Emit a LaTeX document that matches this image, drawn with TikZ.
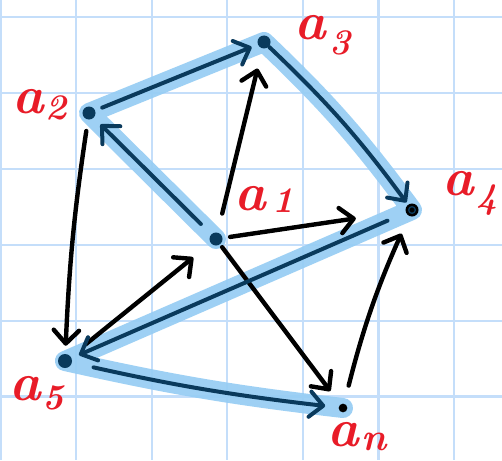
\documentclass[tikz,border=0pt]{standalone}
\usepackage{fontspec}
\usetikzlibrary{arrows.meta}
\definecolor{gridc}{RGB}{196,222,250}
\definecolor{hl}{RGB}{150,205,244}
\definecolor{dk}{RGB}{10,58,92}
\definecolor{labred}{RGB}{232,28,40}
\newcommand\lsub[3]{\hspace{#2pt}\raisebox{-#1pt}{\fontsize{27}{27}\selectfont #3}}
\tikzset{
  gline/.style={draw=gridc, line width=1.6pt},
  dotnode/.style={circle, fill=dk, inner sep=0pt, minimum size=9.75pt},
  smalldot/.style={circle, fill=black, inner sep=0pt, minimum size=6.5pt},
  tip/.style={-{Straight Barb[length=10pt,width=19pt,round]}},
  blk/.style={draw=black, line width=3.3pt, line cap=round, tip},
  dkl/.style={draw=dk, line width=3pt, line cap=round, tip},
  hlpath/.style={draw=hl, line width=15pt, line cap=round, line join=round, opacity=0.92},
  lab/.style={text=labred, font=\fontsize{40}{42}\selectfont\bfseries\itshape, inner sep=0pt, anchor=base west}
}
\begin{document}
\begin{tikzpicture}[x=0.75pt, y=-0.75pt]
\useasboundingbox (0,0) rectangle (502,460);
\fill[white] (0,0) rectangle (502,460);
% grid
\foreach \gx in {0.5,76.1,151.7,227.3,302.9,378.5,454.1} \draw[gline] (\gx,0) -- (\gx,460);
\foreach \gy in {17,92.9,168.8,244.7,320.6,396.5} \draw[gline] (0,\gy) -- (502,\gy);
% vertices
\node[dotnode] (a1) at (216,239) {};
\node[dotnode] (a2) at (89,113) {};
\node[dotnode] (a3) at (264,42) {};
\node[dotnode, fill=black] (a4) at (412,210) {};
\node[dotnode, minimum size=10.5pt] (a5) at (65,361) {};
\node[smalldot] (an) at (343,408) {};
% highlight
\draw[hlpath] (a1.center) -- (a2.center) -- (a3.center) to[bend left=5] (a4.center) -- (a5.center) to[bend right=3] (an.center);
% redraw dots over highlight
\node[dotnode] at (a1) {};
\node[dotnode] at (a2) {};
\node[dotnode] at (a3) {};
\node[dotnode, fill=black] at (a4) {};
\node[circle, draw=dk, line width=1pt, inner sep=0pt, minimum size=5pt] at (a4) {};
\node[dotnode, minimum size=10.5pt] at (a5) {};
\node[smalldot] at (an) {};
% black arrows
\draw[blk, shorten <=14.6pt, shorten >=15.4pt] (a1) -- (a3);
\draw[blk, shorten <=5.6pt, shorten >=37.5pt] (a1) -- (a4);
\draw[blk, shorten <=2.6pt, shorten >=12.4pt] (a1) -- (an);
\draw[blk, shorten <=14.3pt, shorten >=16.9pt] (a5) -- (a1);
\draw[blk, shorten <=8.6pt, shorten >=6pt] (a2) to[bend right=3] (a5);
\draw[blk, shorten <=13.9pt, shorten >=14.3pt] (an) to[bend left=5] (a4);
% highlighted (dark) arrows
\draw[dkl, shorten <=10.9pt, shorten >=7.1pt] (a1) -- (a2);
\draw[dkl, shorten <=5.6pt, shorten >=4.9pt] (a2) -- (a3);
\draw[dkl, shorten <=0.5pt, shorten >=2pt] (a3) to[bend left=5] (a4);
\draw[dkl, shorten <=15pt, shorten >=6pt] (a4) -- (a5);
\draw[dkl, shorten <=16.5pt, shorten >=10pt] (a5) to[bend right=3] (an);
% labels
\node[lab] (l1) at (234,210) {a\lsub{2}{5}{1}};
\node[lab] (l2) at (12,113) {a\lsub{5}{1}{2}};
\node[lab] (l3) at (294,40) {a\lsub{11}{3}{3}};
\node[lab] (l4) at (442,195) {a\lsub{10}{2}{4}};
\node[lab] (l5) at (9,400) {a\lsub{7}{1}{5}};
\node[lab] (ln) at (327,446) {a\lsub{3}{2}{\fontsize{29}{29}\selectfont n}};
\end{tikzpicture}
\end{document}
